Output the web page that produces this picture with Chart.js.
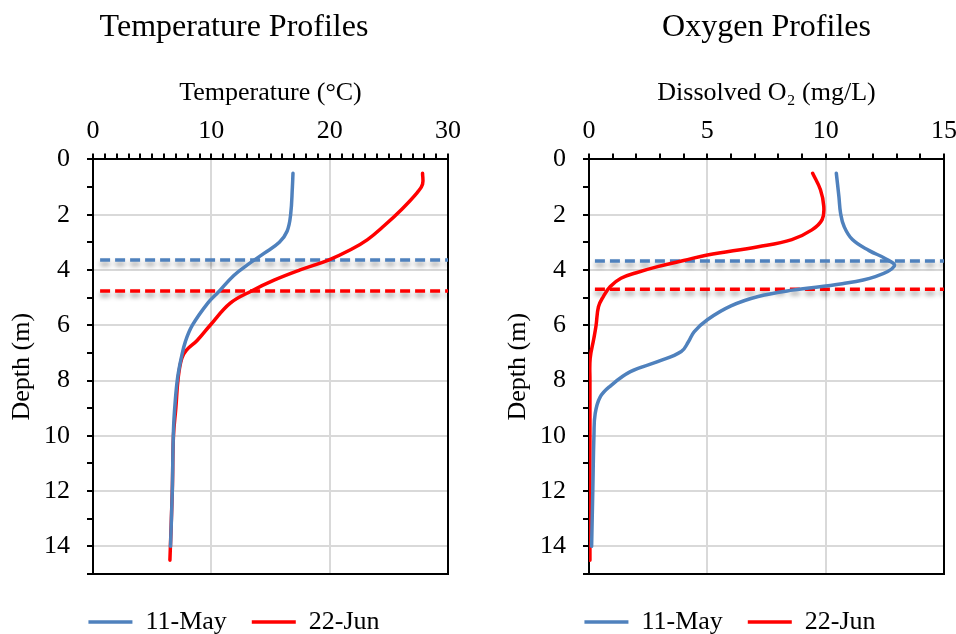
<!DOCTYPE html>
<html>
<head>
<meta charset="utf-8">
<title>Temperature and Oxygen Profiles</title>
<script src="https://cdn.jsdelivr.net/npm/chart.js"></script>
<style>
  html, body { margin: 0; padding: 0; background: #fff; overflow: hidden; }
  .panel { position: absolute; top: 0; width: 468px; height: 645px; }
</style>
</head>
<body>
<div class="panel" style="left:0"><canvas id="tempChart" width="468" height="645"></canvas></div>
<div class="panel" style="left:496px"><canvas id="oxyChart" width="468" height="645"></canvas></div>
<script>
// Profiles, depth in m
const seriesNames = ["11-May", "22-Jun"];

const tempMayDepth = [0.5, 1.0, 2.0, 2.6, 3.0, 3.4, 3.8, 4.2, 4.8, 5.2, 6.0, 6.6, 7.2, 7.9, 8.75, 9.8, 12, 14];
const tempMay = [16.9, 16.85, 16.7, 16.4, 15.75, 14.45, 13.1, 11.9, 10.6, 9.7, 8.4, 7.8, 7.45, 7.15, 6.95, 6.8, 6.7, 6.55];

const tempJunDepth = [0.5, 0.9, 1.2, 1.8, 2.4, 2.9, 3.26, 3.64, 4.0, 4.37, 4.76, 5.2, 6.0, 6.55, 6.9, 7.2, 7.9, 9.0, 10.0, 12, 14.5];
const tempJun = [27.85, 27.85, 27.4, 26.1, 24.6, 23.2, 21.8, 19.9, 17.5, 15.3, 13.4, 11.6, 9.9, 8.8, 7.9, 7.5, 7.2, 7.0, 6.8, 6.7, 6.5];

const oxyMayDepth = [0.5, 1.35, 1.95, 2.43, 2.9, 3.3, 3.6, 3.86, 4.24, 4.5, 4.73, 4.96, 5.3, 5.8, 6.23, 6.6, 6.95, 7.32, 7.68, 8.2, 8.6, 9.2, 9.95, 12, 14];
const oxyMay = [10.45, 10.56, 10.63, 10.78, 11.13, 11.84, 12.55, 12.9, 12.1, 10.7, 8.6, 7.15, 6.0, 5.0, 4.45, 4.2, 3.9, 2.9, 1.75, 0.9, 0.47, 0.26, 0.21, 0.16, 0.11];

const oxyJunDepth = [0.5, 1.1, 1.7, 2.18, 2.55, 2.9, 3.16, 3.46, 3.66, 3.88, 4.1, 4.3, 4.6, 4.97, 5.33, 6.0, 6.5, 7.2, 8.0, 14.5];
const oxyJun = [9.45, 9.78, 9.92, 9.85, 9.42, 8.57, 7.15, 5.0, 4.0, 2.9, 2.0, 1.35, 0.9, 0.6, 0.4, 0.3, 0.2, 0.05, 0.04, 0.04];

// Dashed layer depths (11-May, 22-Jun) and their x extents
const tempLayerDepth = [3.64, 4.76];
const tempLayerX = [0.6, 30];
const oxyLayerDepth = [3.68, 4.7];
const oxyLayerX = [0.25, 15];

const SERIF = "'Liberation Serif', 'Times New Roman', serif";
const BLUE = "#4f81bd";
const RED = "#ff0000";
const GRID = "#d9d9d9";
const NONE = "rgba(0,0,0,0)";

function toPoints(depths, values) {
  return depths.map((d, i) => ({ x: values[i], y: d }));
}

function profileDataset(label, depths, values, color) {
  return {
    label: label,
    data: toPoints(depths, values),
    borderColor: color,
    backgroundColor: color,
    borderWidth: 3.5,
    borderCapStyle: "round",
    pointRadius: 0,
    showLine: true,
    tension: 0.4,
    fill: false,
  };
}

function layerDataset(label, xs, depth, color) {
  return {
    label: label,
    data: xs.map((x) => ({ x: x, y: depth })),
    borderColor: color,
    backgroundColor: color,
    borderWidth: 3.5,
    borderDash: [10, 5],
    pointRadius: 0,
    showLine: true,
    tension: 0,
    fill: false,
    shadow: true,
  };
}

// soft drop shadow under the dashed layer lines
const layerShadow = {
  id: "layerShadow",
  beforeDatasetDraw(chart, args) {
    if (!chart.data.datasets[args.index].shadow) return;
    const ctx = chart.ctx;
    ctx.save();
    ctx.shadowColor = "rgba(0, 0, 0, 0.4)";
    ctx.shadowBlur = 5;
    ctx.shadowOffsetY = 4;
  },
  afterDatasetDraw(chart, args) {
    if (chart.data.datasets[args.index].shadow) chart.ctx.restore();
  },
};

function createProfileChart(canvasId, opts) {
  const ctx = document.getElementById(canvasId).getContext("2d");
  const frame = { color: "#000", width: 2 };

  return new Chart(ctx, {
    type: "scatter",
    data: { datasets: opts.datasets },
    options: {
      responsive: false,
      animation: false,
      events: [],
      layout: { padding: 0 },
      plugins: {
        title: {
          display: true,
          text: opts.title,
          fullSize: opts.titleFullSize,
          color: "#000",
          font: { family: SERIF, size: 32, weight: "normal" },
          padding: { top: 8, bottom: 10 },
        },
        legend: {
          position: "bottom",
          labels: {
            filter: (item, data) => !data.datasets[item.datasetIndex].shadow,
            usePointStyle: true,
            pointStyle: "line",
            pointStyleWidth: 44,
            color: "#000",
            font: { family: SERIF, size: 26 },
            padding: 25,
          },
        },
        tooltip: { enabled: false },
      },
      scales: {
        x: {
          type: "linear",
          position: "top",
          min: 0,
          max: opts.xMax,
          afterFit: (s) => { s.height = 103; },
          title: {
            display: true,
            text: opts.xTitle,
            color: "#000",
            font: { family: SERIF, size: 26 },
            padding: { top: 21, bottom: 0 },
          },
          ticks: {
            stepSize: 1,
            autoSkip: false,
            maxRotation: 0,
            padding: 7,
            color: "#000",
            font: { family: SERIF, size: 26 },
            callback: (v) => (v % opts.xMajor === 0 ? v : ""),
          },
          grid: {
            color: (c) =>
              c.tick && c.tick.value > 0 && c.tick.value < opts.xMax && c.tick.value % opts.xMajor === 0
                ? GRID
                : NONE,
            lineWidth: 2,
            tickColor: "#000",
            tickLength: 6,
            tickWidth: 2,
          },
          border: frame,
        },
        x2: {
          type: "linear",
          position: "bottom",
          min: 0,
          max: opts.xMax,
          afterFit: (s) => { s.height = 10; },
          ticks: { display: false },
          grid: { display: false },
          border: frame,
        },
        y: {
          type: "linear",
          reverse: true,
          min: 0,
          max: 15,
          afterFit: (s) => { s.width = 93; },
          title: {
            display: true,
            text: "Depth (m)",
            color: "#000",
            font: { family: SERIF, size: 26 },
            padding: { top: 7, bottom: 0 },
          },
          ticks: {
            stepSize: 1,
            autoSkip: false,
            padding: 17,
            color: "#000",
            font: { family: SERIF, size: 26 },
            callback: (v) => (v % 2 === 0 ? v : ""),
          },
          grid: {
            color: (c) =>
              c.tick && c.tick.value > 0 && c.tick.value < 15 && c.tick.value % 2 === 0 ? GRID : NONE,
            lineWidth: 2,
            tickColor: "#000",
            tickLength: 6,
            tickWidth: 2,
          },
          border: frame,
        },
        y2: {
          type: "linear",
          position: "right",
          reverse: true,
          min: 0,
          max: 15,
          afterFit: (s) => { s.width = 14; },
          ticks: { display: false },
          grid: { display: false },
          border: frame,
        },
      },
    },
    plugins: [layerShadow],
  });
}

createProfileChart("tempChart", {
  title: "Temperature Profiles",
  titleFullSize: true,
  xTitle: "Temperature (°C)",
  xMax: 30,
  xMajor: 10,
  datasets: [
    profileDataset(seriesNames[0], tempMayDepth, tempMay, BLUE),
    profileDataset(seriesNames[1], tempJunDepth, tempJun, RED),
    layerDataset("layer " + seriesNames[0], tempLayerX, tempLayerDepth[0], BLUE),
    layerDataset("layer " + seriesNames[1], tempLayerX, tempLayerDepth[1], RED),
  ],
});

createProfileChart("oxyChart", {
  title: "Oxygen Profiles",
  titleFullSize: false,
  xTitle: "Dissolved O₂ (mg/L)",
  xMax: 15,
  xMajor: 5,
  datasets: [
    profileDataset(seriesNames[0], oxyMayDepth, oxyMay, BLUE),
    profileDataset(seriesNames[1], oxyJunDepth, oxyJun, RED),
    layerDataset("layer " + seriesNames[0], oxyLayerX, oxyLayerDepth[0], BLUE),
    layerDataset("layer " + seriesNames[1], oxyLayerX, oxyLayerDepth[1], RED),
  ],
});
</script>
</body>
</html>
